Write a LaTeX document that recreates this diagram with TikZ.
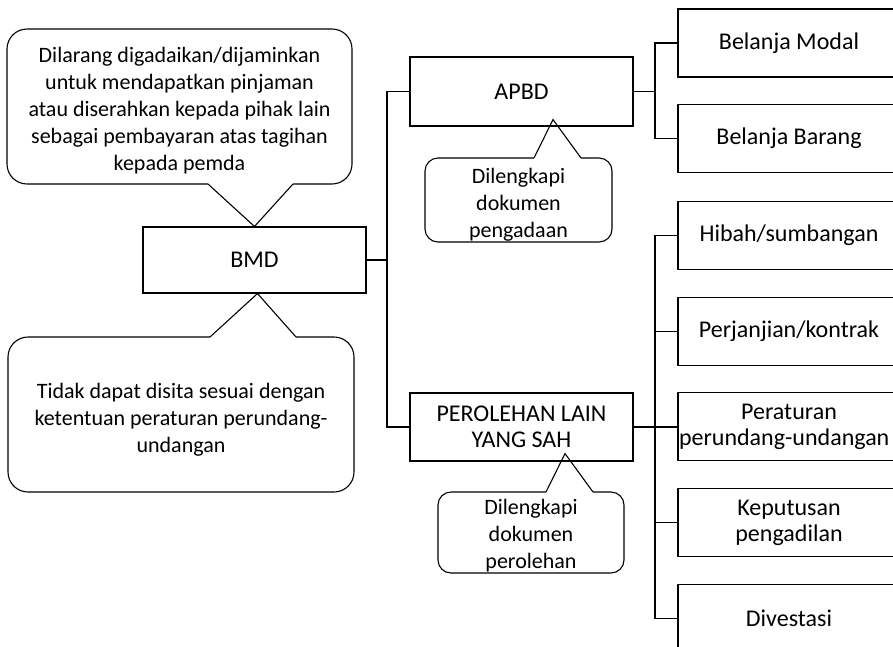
\documentclass[tikz,border=0pt]{standalone}
\usepackage{fontspec}
\setmainfont{Carlito}
\usetikzlibrary{positioning,calc}

\newcommand{\boxsize}{\fontsize{24}{26}\selectfont}
\newcommand{\notesize}{\fontsize{22}{27}\selectfont}

\tikzset{
    box/.style={draw, line width=1.1pt, minimum width=223, minimum height=68,
        inner sep=0pt, align=center, font=\boxsize},
    leaf/.style={box, minimum width=222},
    note/.style={draw, line width=1.1pt, rounded corners=20pt, inner sep=0pt},
    smallnote/.style={note, rounded corners=13pt},
    notetext/.style={inner sep=0pt, align=center, font=\notesize},
    link/.style={line width=1.1pt},
    heavylink/.style={line width=2pt},
}

\begin{document}
\begin{tikzpicture}[x=1pt, y=-1pt, node distance=26.6pt]
    \useasboundingbox (0,0) rectangle (893,646);
    \clip (0,0) rectangle (893,646);

    % Main boxes
    \node[box, minimum height=66] (bmd) at (254.5,260) {BMD};
    \node[box, minimum height=69] (apbd) at (521.5,91.5) {APBD};
    \node[box] (perolehan) at (521.5,427) {PEROLEHAN LAIN\\YANG SAH};

    % Leaves of APBD
    \node[leaf] (modal) at (789,43) {Belanja Modal};
    \node[leaf, below=of modal] (barang) {Belanja Barang};

    % Leaves of the other source
    \node[leaf] (hibah) at (789,235.5) {Hibah/sumbangan};
    \node[leaf, below=of hibah] (perjanjian) {Perjanjian/kontrak};
    \node[leaf, below=of perjanjian] (peraturan) {Peraturan\\\makebox[220pt][l]{perundang-undangan}};
    \node[leaf, below=of peraturan] (keputusan) {Keputusan\\pengadilan};
    \node[leaf, below=of keputusan] (divestasi) {Divestasi};

    % Callouts
    \node[note, minimum width=345, minimum height=155] (topnote) at (179.5,106.5) {};
    \node[note, minimum width=346, minimum height=155] (botnote) at (181,414.5) {};
    \node[smallnote, minimum width=187, minimum height=84] (apbdnote) at (518.5,200) {};
    \node[smallnote, minimum width=186, minimum height=81] (pernote) at (531,532.5) {};

    \node[notetext] (toptext) at ([yshift=-4]topnote.center)
        {Dilarang digadaikan/dijaminkan\\untuk mendapatkan pinjaman\\atau diserahkan kepada pihak lain\\sebagai pembayaran atas tagihan\\kepada pemda};
    \node[notetext] (bottext) at ([yshift=-5]botnote.center)
        {Tidak dapat disita sesuai dengan\\ketentuan peraturan perundang-\\undangan};
    \node[notetext] (apbdtext) at ([yshift=-5]apbdnote.center)
        {Dilengkapi\\dokumen\\pengadaan};
    \node[notetext] (pertext) at ([yshift=-3]pernote.center)
        {Dilengkapi\\dokumen\\perolehan};

    % Tails of the callouts
    \coordinate (ta1) at (208,184);  \coordinate (tb1) at (293,184);
    \coordinate (ta2) at (210,337);  \coordinate (tb2) at (296,337);
    \coordinate (ta3) at (534,158);  \coordinate (tb3) at (581,158);
    \coordinate (ta4) at (546,492);  \coordinate (tb4) at (593,492);
    \coordinate (tip1) at (bmd.north);
    \coordinate (tip2) at ([xshift=3]bmd.south);
    \coordinate (tip3) at ([xshift=31.5,yshift=7]apbd.south);
    \coordinate (tip4) at ([xshift=43.5,yshift=8]perolehan.south);
    \foreach \i in {1,...,4} {
        \fill[white] ($(ta\i)+(0.2,-1.2)$) rectangle ($(tb\i)+(-0.2,1.2)$);
        \draw[link, line join=miter] (ta\i) -- (tip\i) -- (tb\i);
    }

    % Connectors from BMD
    \coordinate (jbmd) at (387,260);
    \draw[link] (bmd.east) -- (jbmd);
    \draw[link] (apbd.west) -| (jbmd) |- (perolehan.west);

    % Connectors from APBD
    \coordinate (japbd) at (655,91.5);
    \draw[link] (apbd.east) -- (japbd);
    \draw[link] (modal.west) -| (japbd) |- (barang.west);

    % Connectors from the other source
    \coordinate (jper) at (655,427);
    \draw[heavylink] (perolehan.east) -- (perolehan.east -| peraturan.west);
    \foreach \n in {perjanjian,keputusan} {
        \draw[link] (\n.west) -- (\n.west -| jper);
    }
    \draw[link] (hibah.west) -| (jper) |- (divestasi.west);
\end{tikzpicture}
\end{document}
